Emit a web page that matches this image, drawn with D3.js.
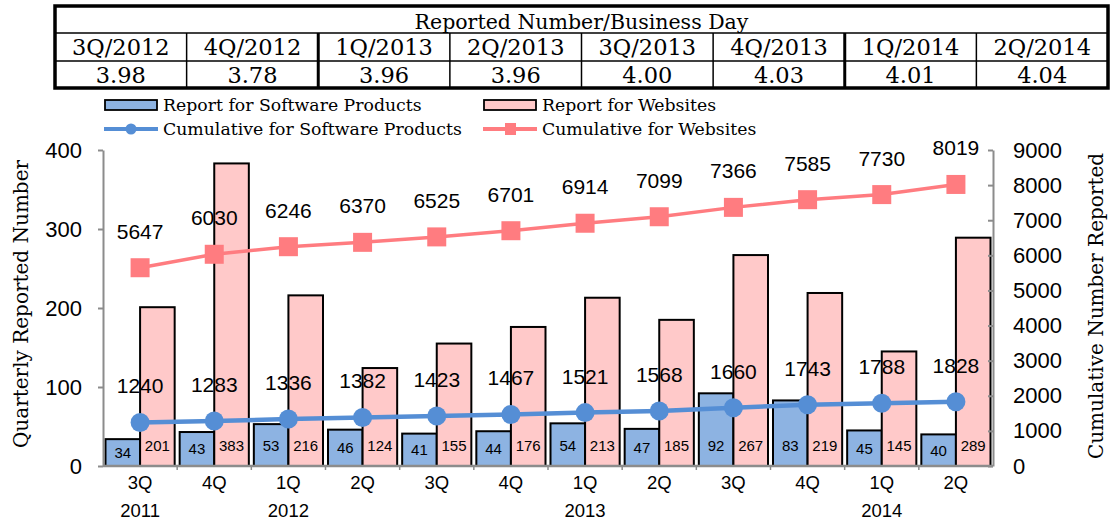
<!DOCTYPE html>
<html>
<head>
<meta charset="utf-8">
<script src="https://cdn.jsdelivr.net/npm/d3@7"></script>
<style>
  body { margin: 0; background: #ffffff; }
  svg { display: block; }
  .serif { font-family: 'DejaVu Serif', 'Liberation Serif', serif; }
  .sans { font-family: 'Liberation Sans', Arial, sans-serif; }
</style>
</head>
<body>
<div id="chart"><svg></svg></div>
<script>
// ---- data ----
const quarters = ['3Q', '4Q', '1Q', '2Q', '3Q', '4Q', '1Q', '2Q', '3Q', '4Q', '1Q', '2Q']
const years = ['2011', '', '2012', '', '', '', '2013', '', '', '', '2014', '']
const softwareReports = [34, 43, 53, 46, 41, 44, 54, 47, 92, 83, 45, 40]
const websiteReports = [201, 383, 216, 124, 155, 176, 213, 185, 267, 219, 145, 289]
const softwareCumulative = [1240, 1283, 1336, 1382, 1423, 1467, 1521, 1568, 1660, 1743, 1788, 1828]
const websiteCumulative = [5647, 6030, 6246, 6370, 6525, 6701, 6914, 7099, 7366, 7585, 7730, 8019]

const tableTitle = 'Reported Number/Business Day'
const tableQuarters = ['3Q/2012', '4Q/2012', '1Q/2013', '2Q/2013', '3Q/2013', '4Q/2013', '1Q/2014', '2Q/2014']
const perBusinessDay = ['3.98', '3.78', '3.96', '3.96', '4.00', '4.03', '4.01', '4.04']

const leftTicks = [0, 100, 200, 300, 400]
const rightTicks = [0, 1000, 2000, 3000, 4000, 5000, 6000, 7000, 8000, 9000]
const legendNames = ['Report for Software Products', 'Report for Websites',
  'Cumulative for Software Products', 'Cumulative for Websites']

const colors = {
  swBar: '#8db3e2',
  webBar: '#ffc9c9',
  swLine: '#558ed5',
  webLine: '#ff7c80',
  axis: '#8c8c8c'
}

const width = 1110
const height = 522
const plot = { left: 103, right: 993, top: 150, bottom: 466 }

const svg = d3.select('#chart').select('svg')
  .attr('width', width)
  .attr('height', height)

svg.append('rect')
  .attr('width', width)
  .attr('height', height)
  .attr('fill', '#ffffff')

const idx = d3.range(quarters.length)

const x = d3.scaleBand().domain(idx).range([plot.left, plot.right]).paddingInner(0).paddingOuter(0)
const xSub = d3.scaleBand().domain(['sw', 'web']).range([2.5, x.bandwidth() - 2.5])
const yLeft = d3.scaleLinear().domain([0, 400]).range([plot.bottom, plot.top])
const yRight = d3.scaleLinear().domain([0, 9000]).range([plot.bottom, plot.top])

/*********** table on top ***********/
function drawTable () {
  const tx = d3.scaleBand().domain(tableQuarters).range([55, 1108])
  const rows = [6, 33, 61, 88]
  const t = svg.append('g').attr('class', 'table serif')

  t.append('text')
    .attr('x', (55 + 1108) / 2)
    .attr('y', 29)
    .attr('text-anchor', 'middle')
    .attr('font-size', 20.5)
    .text(tableTitle)

  t.selectAll('.tq')
    .data(tableQuarters)
    .join('text')
    .attr('class', 'tq')
    .attr('x', d => tx(d) + tx.bandwidth() / 2)
    .attr('y', 55)
    .attr('text-anchor', 'middle')
    .attr('font-size', 22.5)
    .text(d => d)

  t.selectAll('.tv')
    .data(perBusinessDay)
    .join('text')
    .attr('class', 'tv')
    .attr('x', (d, i) => tx(tableQuarters[i]) + tx.bandwidth() / 2)
    .attr('y', 83)
    .attr('text-anchor', 'middle')
    .attr('font-size', 22.5)
    .text(d => d)

  // inner lines
  t.append('line')
    .attr('x1', 55).attr('x2', 1108)
    .attr('y1', rows[1]).attr('y2', rows[1])
    .attr('stroke', '#000').attr('stroke-width', 1.5)
  t.append('line')
    .attr('x1', 55).attr('x2', 1108)
    .attr('y1', rows[2]).attr('y2', rows[2])
    .attr('stroke', '#000').attr('stroke-width', 1.5)

  t.selectAll('.sep')
    .data(tableQuarters.slice(1))
    .join('line')
    .attr('class', 'sep')
    .attr('x1', d => tx(d)).attr('x2', d => tx(d))
    .attr('y1', rows[1]).attr('y2', rows[3])
    .attr('stroke', '#000')
    .attr('stroke-width', d => d.startsWith('1Q') ? 3 : 1.5)

  t.append('rect')
    .attr('x', 55).attr('y', rows[0])
    .attr('width', 1108 - 55).attr('height', rows[3] - rows[0])
    .attr('fill', 'none')
    .attr('stroke', '#000')
    .attr('stroke-width', 3.5)
}

/*********** legend ***********/
function drawLegend () {
  const lg = svg.append('g').attr('class', 'legend serif')
  const cols = [105, 484]
  const rowsY = [105, 129]

  lg.selectAll('.lbox')
    .data([colors.swBar, colors.webBar])
    .join('rect')
    .attr('class', 'lbox')
    .attr('x', (d, i) => cols[i])
    .attr('y', rowsY[0] - 5)
    .attr('width', 52)
    .attr('height', 10)
    .attr('fill', d => d)
    .attr('stroke', '#000')
    .attr('stroke-width', 1.8)

  lg.selectAll('.lline')
    .data([colors.swLine, colors.webLine])
    .join('line')
    .attr('class', 'lline')
    .attr('x1', (d, i) => cols[i] - 1)
    .attr('x2', (d, i) => cols[i] + 53)
    .attr('y1', rowsY[1]).attr('y2', rowsY[1])
    .attr('stroke', d => d)
    .attr('stroke-width', 4)

  lg.append('circle')
    .attr('cx', cols[0] + 26).attr('cy', rowsY[1]).attr('r', 5.5)
    .attr('fill', colors.swLine)
  lg.append('rect')
    .attr('x', cols[1] + 21).attr('y', rowsY[1] - 6)
    .attr('width', 11).attr('height', 12)
    .attr('fill', colors.webLine)

  lg.selectAll('.ltext')
    .data(legendNames)
    .join('text')
    .attr('class', 'ltext')
    .attr('x', (d, i) => cols[i % 2] + 58)
    .attr('y', (d, i) => rowsY[Math.floor(i / 2)] + 6)
    .attr('font-size', 17.3)
    .text(d => d)
}

/*********** axes ***********/
function drawAxes () {
  svg.append('g')
    .attr('class', 'y axis sans')
    .attr('transform', 'translate(' + plot.left + ',0)')
    .call(d3.axisLeft(yLeft).tickValues(leftTicks).tickSize(5).tickSizeOuter(0).tickPadding(16)
      .tickFormat(d3.format('d')))
  svg.append('g')
    .attr('class', 'y2 axis sans')
    .attr('transform', 'translate(' + plot.right + ',0)')
    .call(d3.axisRight(yRight).tickValues(rightTicks).tickSize(-5).tickSizeOuter(0).tickPadding(20)
      .tickFormat(d3.format('d')))

  svg.selectAll('.axis path, .axis line')
    .attr('stroke', colors.axis)
    .attr('stroke-width', 2)
  svg.selectAll('.axis text')
    .attr('font-family', 'Liberation Sans, Arial, sans-serif')
    .attr('font-size', 22)
    .attr('fill', '#000')

  // category axis
  const xa = svg.append('g').attr('class', 'x-axis')
  xa.append('line')
    .attr('x1', plot.left).attr('x2', plot.right)
    .attr('y1', plot.bottom).attr('y2', plot.bottom)
    .attr('stroke', colors.axis).attr('stroke-width', 2.5)
  xa.selectAll('.xtick')
    .data(idx.slice(1))
    .join('line')
    .attr('class', 'xtick')
    .attr('x1', d => x(d)).attr('x2', d => x(d))
    .attr('y1', plot.bottom).attr('y2', plot.bottom + 4)
    .attr('stroke', colors.axis).attr('stroke-width', 1.5)

  xa.selectAll('.qlabel')
    .data(quarters)
    .join('text')
    .attr('class', 'qlabel sans')
    .attr('x', (d, i) => x(i) + x.bandwidth() / 2)
    .attr('y', 489)
    .attr('text-anchor', 'middle')
    .attr('font-size', 18.5)
    .text(d => d)

  xa.selectAll('.ylabel')
    .data(years)
    .join('text')
    .attr('class', 'ylabel sans')
    .attr('x', (d, i) => x(i) + x.bandwidth() / 2)
    .attr('y', 517)
    .attr('text-anchor', 'middle')
    .attr('font-size', 18.5)
    .text(d => d)

  svg.append('text')
    .attr('class', 'serif')
    .attr('transform', 'translate(21,' + 304 + ') rotate(-90)')
    .attr('text-anchor', 'middle')
    .attr('dominant-baseline', 'central')
    .attr('font-size', 20)
    .text('Quarterly Reported Number')

  svg.append('text')
    .attr('class', 'serif')
    .attr('transform', 'translate(1096,' + 306 + ') rotate(-90)')
    .attr('text-anchor', 'middle')
    .attr('dominant-baseline', 'central')
    .attr('font-size', 20)
    .text('Cumulative Number Reported')
}

/*********** bars ***********/
function drawBars () {
  const series = [
    { key: 'sw', values: softwareReports, fill: colors.swBar },
    { key: 'web', values: websiteReports, fill: colors.webBar }
  ]
  series.forEach(s => {
    const g = svg.append('g').attr('class', 'bars-' + s.key)
    g.selectAll('rect')
      .data(s.values)
      .join('rect')
      .attr('x', (d, i) => x(i) + xSub(s.key))
      .attr('y', d => yLeft(d))
      .attr('width', xSub.bandwidth())
      .attr('height', d => yLeft(0) - yLeft(d))
      .attr('fill', s.fill)
      .attr('stroke', '#000')
      .attr('stroke-width', 2)

    g.selectAll('text')
      .data(s.values)
      .join('text')
      .attr('class', 'sans')
      .attr('x', (d, i) => x(i) + xSub(s.key) + xSub.bandwidth() / 2)
      .attr('y', d => Math.max(yLeft(d / 2), yLeft(0) - 20))
      .attr('dy', '0.36em')
      .attr('text-anchor', 'middle')
      .attr('font-size', 15)
      .text(d => d)
  })
}

/*********** cumulative lines ***********/
function drawLines () {
  const cx = i => x(i) + x.bandwidth() / 2
  const line = d3.line().x((d, i) => cx(i)).y(d => yRight(d))

  svg.append('path')
    .datum(websiteCumulative)
    .attr('d', line)
    .attr('fill', 'none')
    .attr('stroke', colors.webLine)
    .attr('stroke-width', 3.5)

  svg.selectAll('.webMark')
    .data(websiteCumulative)
    .join('rect')
    .attr('class', 'webMark')
    .attr('x', (d, i) => cx(i) - 9.5)
    .attr('y', d => yRight(d) - 9.5)
    .attr('width', 19)
    .attr('height', 19)
    .attr('fill', colors.webLine)

  svg.append('path')
    .datum(softwareCumulative)
    .attr('d', line)
    .attr('fill', 'none')
    .attr('stroke', colors.swLine)
    .attr('stroke-width', 4.5)

  svg.selectAll('.swMark')
    .data(softwareCumulative)
    .join('circle')
    .attr('class', 'swMark')
    .attr('cx', (d, i) => cx(i))
    .attr('cy', d => yRight(d))
    .attr('r', 9.5)
    .attr('fill', colors.swLine)

  const labels = softwareCumulative.concat(websiteCumulative)
  svg.selectAll('.cumLabel')
    .data(labels)
    .join('text')
    .attr('class', 'cumLabel sans')
    .attr('x', (d, i) => cx(i % quarters.length))
    .attr('y', d => yRight(d) - 29)
    .attr('text-anchor', 'middle')
    .attr('font-size', 21)
    .text(d => d)
}

drawTable()
drawLegend()
drawBars()
drawLines()
drawAxes()
</script>
</body>
</html>
